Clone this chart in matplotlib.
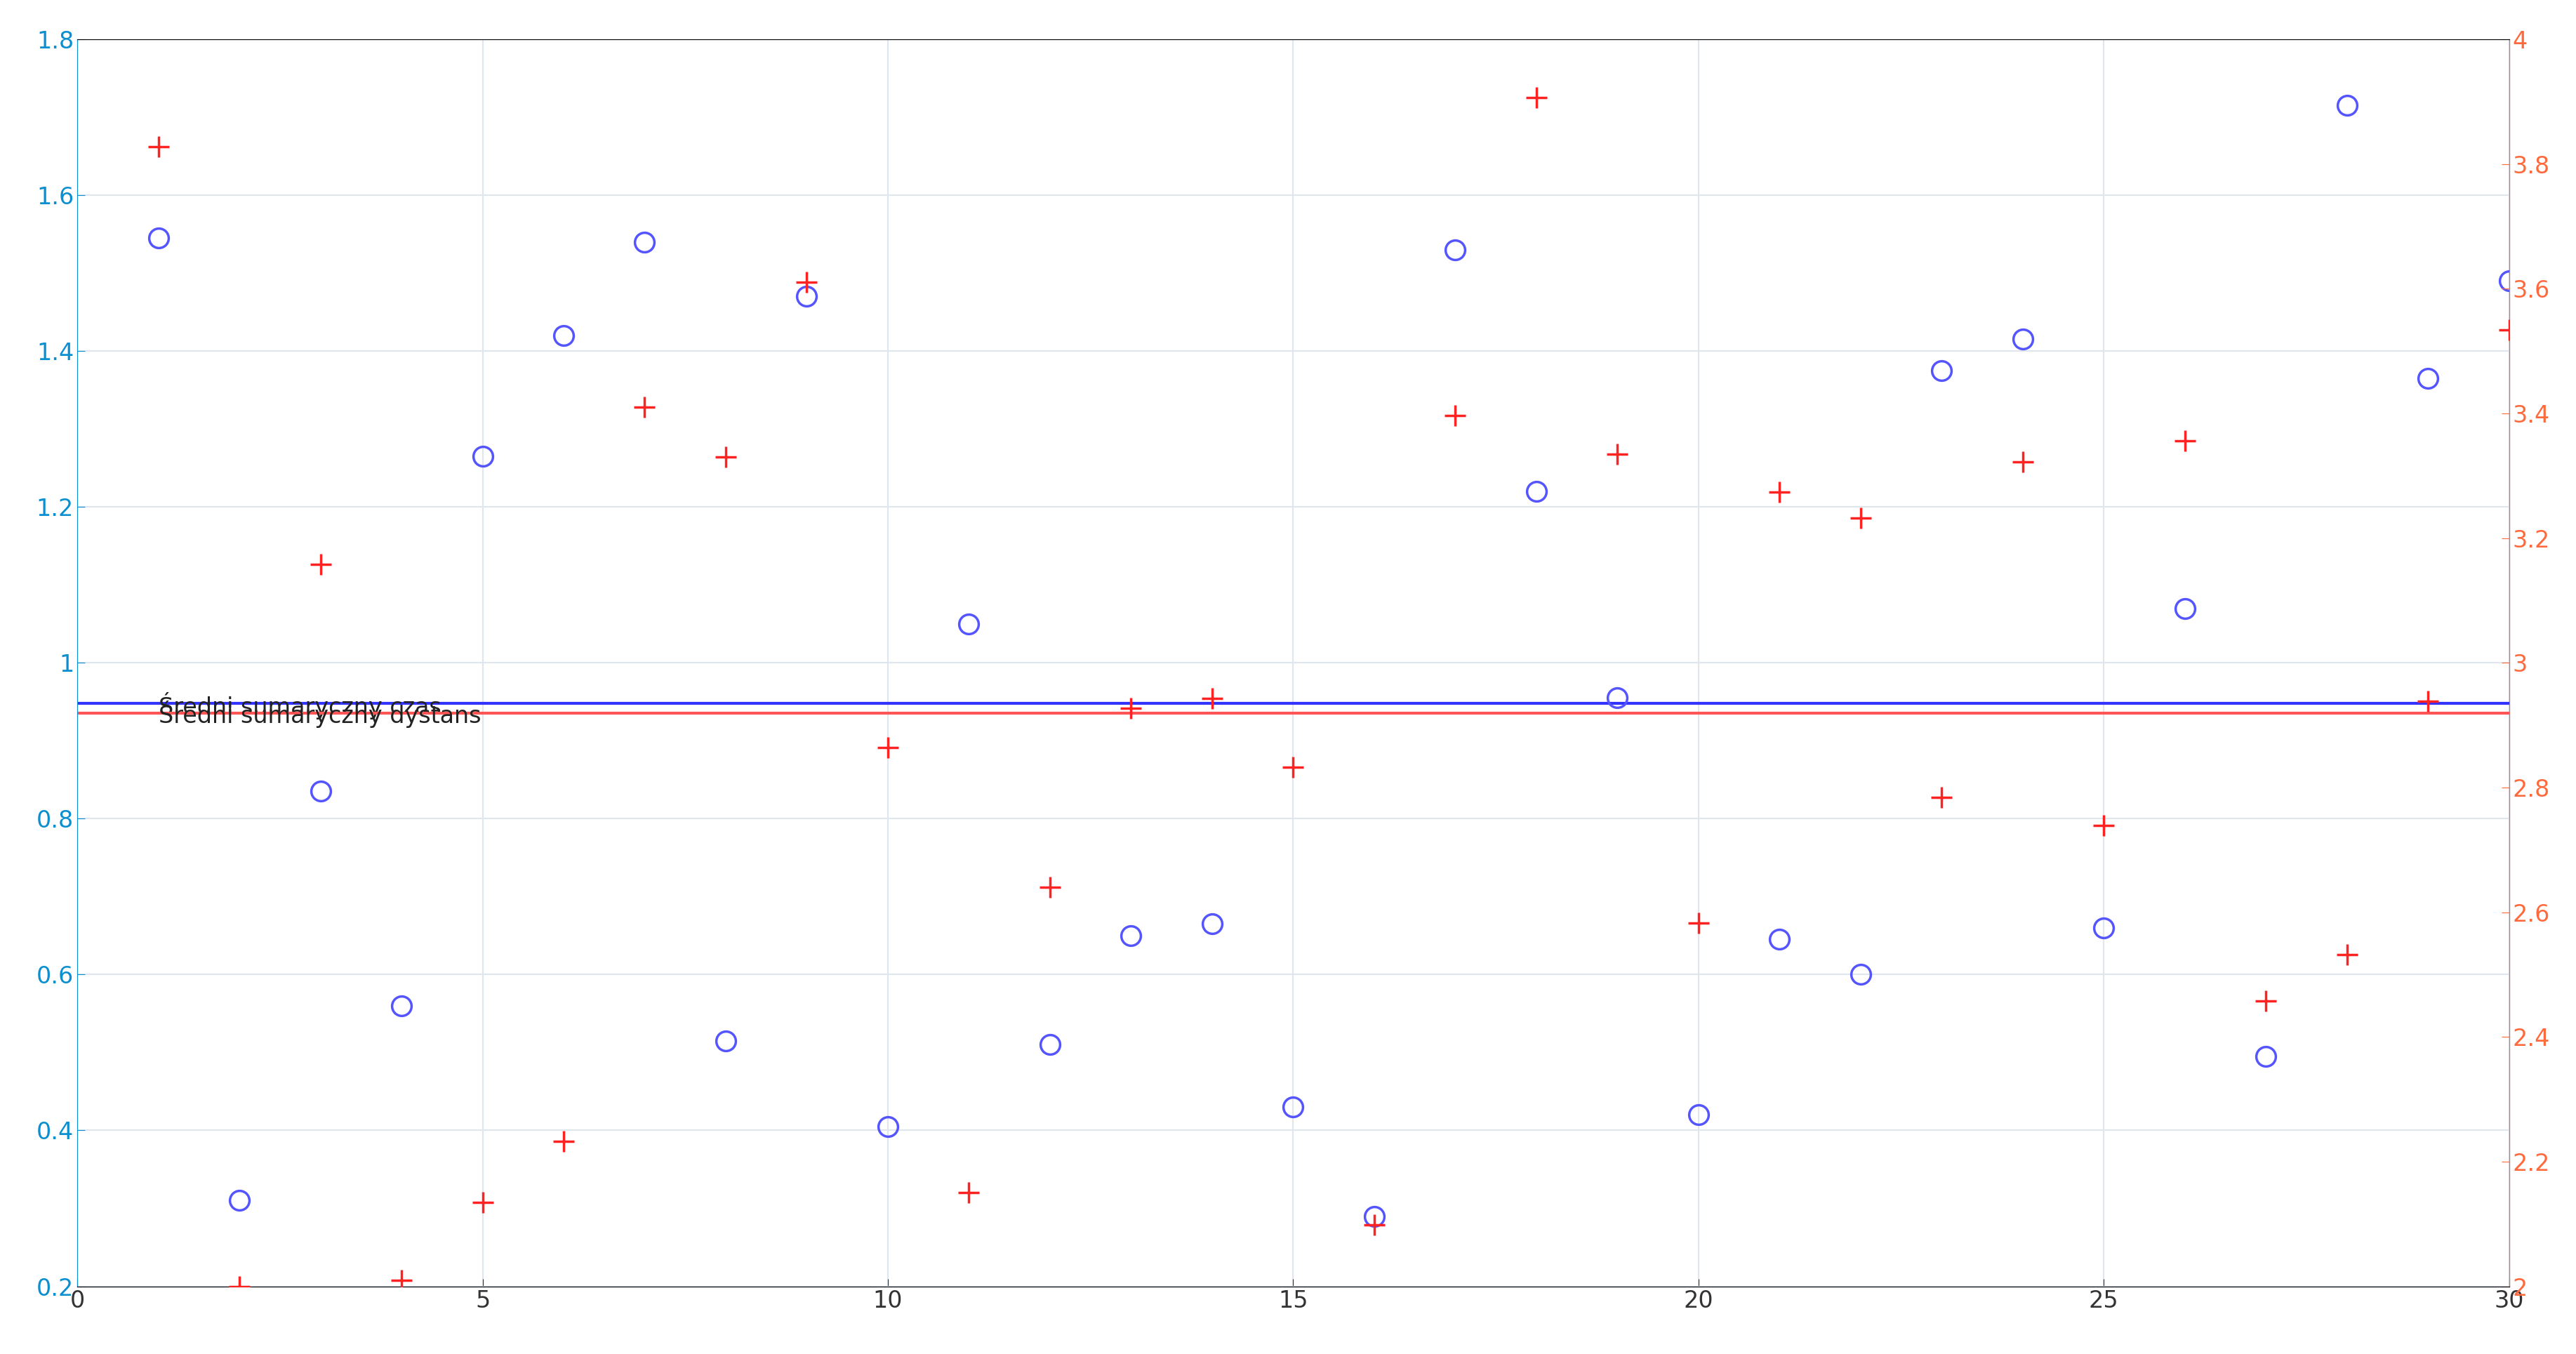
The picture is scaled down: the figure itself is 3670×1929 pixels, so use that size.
import matplotlib
matplotlib.use("Agg")
import matplotlib.pyplot as plt

x = list(range(1, 31))
czas = [1.545, 0.31, 0.835, 0.56, 1.265, 1.42, 1.54, 0.515, 1.47, 0.405,
        1.05, 0.51, 0.65, 0.665, 0.43, 0.29, 1.53, 1.22, 0.955, 0.42,
        0.645, 0.60, 1.375, 1.415, 0.66, 1.07, 0.495, 1.715, 1.365, 1.49]
dystans = [3.828, 2.0, 3.158, 2.01, 2.135, 2.233, 3.41, 3.33, 3.61, 2.864,
           2.15, 2.64, 2.927, 2.943, 2.832, 2.098, 3.396, 3.907, 3.335, 2.583,
           3.274, 3.232, 2.784, 3.322, 2.739, 3.356, 2.458, 2.532, 2.938, 3.534]
sredni_czas = 0.948
sredni_dystans = 2.919

left_col = "#0a8fd0"
right_col = "#ff6a3d"

fig = plt.figure(figsize=(36.7, 19.29), dpi=100)
ax = fig.add_axes([0.030, 0.050, 0.944, 0.921])
ax.plot(x, czas, "o", mfc="none", mec="#5555ff", ms=20, mew=2.5, zorder=3)
ax.axhline(sredni_czas, color="#3333ff", lw=3, zorder=2)
ax.text(1, sredni_czas - 0.003, "Średni sumaryczny czas", fontsize=24, va="center",
        ha="left", color="#222222")
ax.set_xlim(0, 30)
ax.set_ylim(0.2, 1.8)
ax.set_xticks(range(0, 31, 5))
ax.set_yticks([0.2, 0.4, 0.6, 0.8, 1.0, 1.2, 1.4, 1.6, 1.8])
ax.set_yticklabels(["0.2", "0.4", "0.6", "0.8", "1", "1.2", "1.4", "1.6", "1.8"])
ax.grid(True, color="#dfe6ee", lw=1.5)
ax.tick_params(axis="y", colors=left_col, labelsize=24, length=8, direction="in")
ax.tick_params(axis="x", colors="#333333", labelsize=24, length=8, direction="in")
ax.spines["left"].set_color(left_col)
ax.spines["top"].set_color("#cccccc")
ax.spines["bottom"].set_color("#555555")

ax2 = ax.twinx()
ax2.plot(x, dystans, "+", color="#ff2222", ms=22, mew=2.5, zorder=3)
ax2.axhline(sredni_dystans, color="#ff5555", lw=3, zorder=2)
ax2.text(1, sredni_dystans - 0.002, "Średni sumaryczny dystans", fontsize=24, va="center",
         ha="left", color="#222222")
ax2.set_ylim(2, 4)
ax2.set_yticks([2, 2.2, 2.4, 2.6, 2.8, 3, 3.2, 3.4, 3.6, 3.8, 4])
ax2.set_yticklabels(["2", "2.2", "2.4", "2.6", "2.8", "3", "3.2", "3.4", "3.6", "3.8", "4"])
ax2.tick_params(axis="y", colors=right_col, labelsize=24, length=8, direction="in")
ax2.spines["right"].set_color(right_col)
ax2.spines["left"].set_color(left_col)

fig.savefig("out.png", dpi=100, facecolor="white")
